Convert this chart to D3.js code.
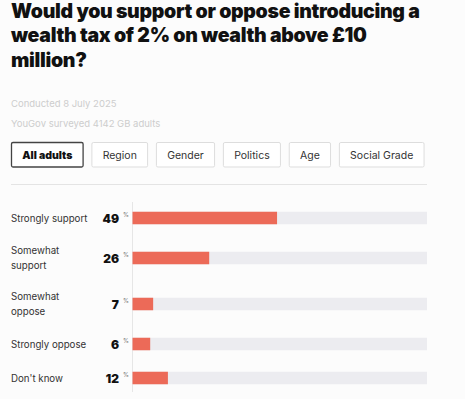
<!DOCTYPE html>
<html>
<head>
<meta charset="utf-8">
<script src="https://cdn.jsdelivr.net/npm/d3@7"></script>
<style>
  html, body { margin: 0; padding: 0; background: #fcfcfc; }
  svg { display: block; font-family: Inter, "Noto Sans", sans-serif; }
</style>
</head>
<body>
<div id="chart"></div>
<script>
// ---- data ----
const titleLines = [
  'Would you support or oppose introducing a',
  'wealth tax of 2% on wealth above £10',
  'million?'
];
const metaLines = ['Conducted 8 July 2025', 'YouGov surveyed 4142 GB adults'];
const tabs = ['All adults', 'Region', 'Gender', 'Politics', 'Age', 'Social Grade'];
const answers = [
  ['Strongly support'],
  ['Somewhat', 'support'],
  ['Somewhat', 'oppose'],
  ['Strongly oppose'],
  ["Don't know"]
];
const shares = [49, 26, 7, 6, 12];

// ---- layout ----
const W = 465, H = 399;
const left = 11, right = 427;
const barX0 = 132;

const svg = d3.select('#chart').append('svg')
  .attr('width', W).attr('height', H);

// title
const title = svg.append('g').selectAll('text')
  .data(titleLines)
  .join('text')
  .attr('x', left)
  .attr('y', (d, i) => 17.5 + i * 24.5)
  .attr('font-size', 17)
  .attr('font-weight', 900)
  .attr('fill', '#111')
  .attr('letter-spacing', -0.3)
  .text((d) => d);
// scale the size so the first line spans the reference width (~407px)
const w0 = title.node().getComputedTextLength();
title.attr('font-size', 17 * 407 / w0);

// meta
svg.append('g').selectAll('text')
  .data(metaLines)
  .join('text')
  .attr('x', left)
  .attr('y', (d, i) => 107 + i * 19.5)
  .attr('font-size', 9.5)
  .attr('fill', '#cdcdcd')
  .text((d) => d);

// tabs
const tabG = svg.append('g');
let tx = left;
tabs.forEach((t, i) => {
  const txt = tabG.append('text')
    .attr('y', 158.5)
    .attr('font-size', 10.5)
    .attr('font-weight', i === 0 ? 900 : 400)
    .attr('fill', i === 0 ? '#111' : '#333')
    .text(t);
  const tw = txt.node().getComputedTextLength();
  const bw = tw + 21.5;
  tabG.insert('rect', 'text')
    .attr('x', tx + 0.5).attr('y', 142.5)
    .attr('width', bw).attr('height', 24.5)
    .attr('rx', 1.5)
    .attr('fill', '#fff')
    .attr('stroke', i === 0 ? '#444' : '#ddd')
    .attr('stroke-width', i === 0 ? 1.3 : 1);
  txt.attr('x', tx + 11.25);
  tx += bw + 8.8;
});

// separator
svg.append('line')
  .attr('x1', left).attr('x2', right)
  .attr('y1', 184.5).attr('y2', 184.5)
  .attr('stroke', '#e4e4e4');

// row positions: height depends on label line count
const rowH = (lines) => 34 + (lines.length - 1) * 12;
const rows = [];
let yy = 201;
answers.forEach((lines, i) => {
  const h = rowH(lines);
  rows.push({ lines, value: shares[i], cy: yy + h / 2 });
  yy += h;
});

const x = d3.scaleLinear().domain([0, 100]).range([barX0, right]);

// axis line
svg.append('line')
  .attr('x1', barX0 + 0.5).attr('x2', barX0 + 0.5)
  .attr('y1', 202).attr('y2', 392)
  .attr('stroke', '#e6e6e6');

const barH = 12.5;
const row = svg.append('g').selectAll('g')
  .data(rows)
  .join('g')
  .attr('transform', (d) => `translate(0,${d.cy})`);

row.append('rect')
  .attr('x', x(0) + 0.5)
  .attr('y', -barH / 2)
  .attr('width', x(100) - x(0) - 0.5)
  .attr('height', barH)
  .attr('fill', '#ececf0');

row.append('rect')
  .attr('x', x(0) + 0.5)
  .attr('y', -barH / 2)
  .attr('width', (d) => x(d.value) - x(0))
  .attr('height', barH)
  .attr('fill', '#ec6a58');

// labels
row.append('text')
  .attr('x', left)
  .attr('font-size', 9.7)
  .attr('fill', '#333')
  .selectAll('tspan')
  .data((d) => d.lines.map((l, j) => ({ l, j, n: d.lines.length })))
  .join('tspan')
  .attr('x', left)
  .attr('y', (d) => 3.5 + (d.j - (d.n - 1) / 2) * 14.5)
  .text((d) => d.l);

// values
row.append('text')
  .attr('x', 119)
  .attr('y', 4.5)
  .attr('text-anchor', 'end')
  .attr('font-size', 12)
  .attr('font-weight', 900)
  .attr('fill', '#111')
  .text((d) => d.value);

row.append('text')
  .attr('x', 123)
  .attr('y', -1.5)
  .attr('font-size', 6)
  .attr('fill', '#777')
  .text('%');
</script>
</body>
</html>
